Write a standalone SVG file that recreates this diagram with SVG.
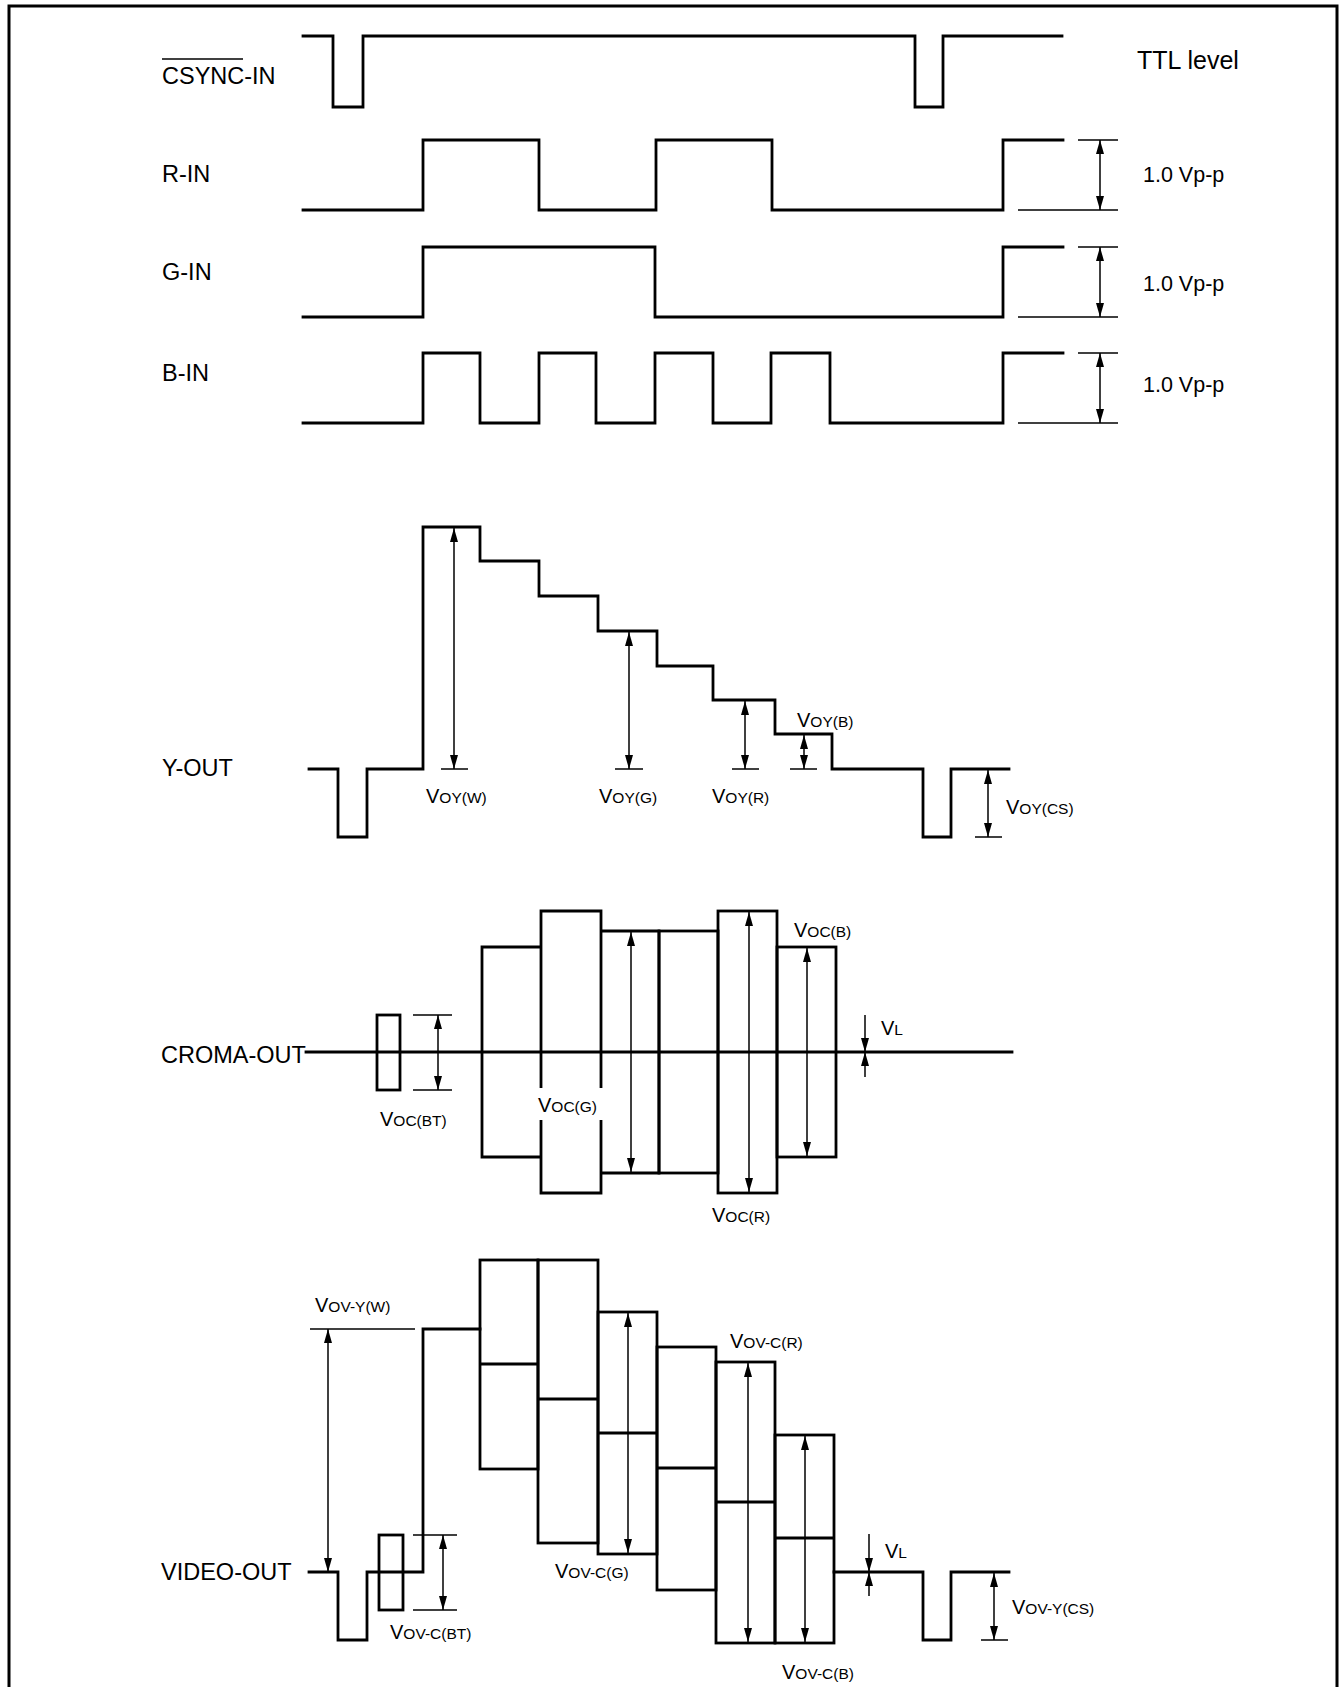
<svg xmlns="http://www.w3.org/2000/svg" width="1341" height="1687" viewBox="0 0 1341 1687">
<style>
text{font-family:"Liberation Sans",Arial,sans-serif;fill:#000}
.name{font-size:23.5px}
.note{font-size:21.5px}
.ttl{font-size:25px}
.sm{font-size:15.5px}
.big{font-size:20px}
.wave{fill:none;stroke:#000;stroke-width:2.8;stroke-linejoin:miter;stroke-linecap:square}
.box{fill:none;stroke:#000;stroke-width:2.8}
.tick{fill:none;stroke:#000;stroke-width:1.5}
.dim{fill:none;stroke:#000;stroke-width:1.5;marker-end:url(#ah)}
.dim2{fill:none;stroke:#000;stroke-width:1.5;marker-start:url(#ah);marker-end:url(#ah)}
</style>
<defs>
<marker id="ah" viewBox="0 0 14 8" refX="14" refY="4" markerWidth="14" markerHeight="8" markerUnits="userSpaceOnUse" orient="auto-start-reverse">
<path d="M0,0 L14,4 L0,8 z" fill="#000"/>
</marker>
</defs>
<rect width="1341" height="1687" fill="#fff"/>
<path d="M9,1690 V6 H1337 V1690" fill="none" stroke="#000" stroke-width="3"/>

<g id="csync">
<text class="name" x="162" y="84">CSYNC-IN</text>
<line x1="162" y1="59" x2="243" y2="59" stroke="#000" stroke-width="1.5"/>
<path class="wave" d="M303,36 H333 V107 H363 V36 H915 V107 H943 V36 H1062"/>
<text class="ttl" x="1137" y="69">TTL level</text>
</g>

<g id="r-in">
<text class="name" x="162" y="182">R-IN</text>
<path class="wave" d="M303,210 H423 V140 H539 V210 H656 V140 H772 V210 H1003 V140 H1063"/>
</g>
<g id="g-in">
<text class="name" x="162" y="280">G-IN</text>
<path class="wave" d="M303,317 H423 V247 H655 V317 H1003 V247 H1063"/>
</g>
<g id="b-in">
<text class="name" x="162" y="381">B-IN</text>
<path class="wave" d="M303,423 H423 V353 H480 V423 H539 V353 H596 V423 H655 V353 H713 V423 H771 V353 H830 V423 H1003 V353 H1063"/>
</g>

<g id="y-out">
<text class="name" x="162" y="776">Y-OUT</text>
<path class="wave" d="M309,769 H338 V837 H367 V769 H423 V527 H480 V561 H539 V596 H598 V631 H657 V666 H713 V700 H775 V734 H832 V769 H923 V837 H951 V769 H1009"/>
<text x="426" y="803"><tspan class="big">V</tspan><tspan class="sm">OY(W)</tspan></text>
<text x="599" y="803"><tspan class="big">V</tspan><tspan class="sm">OY(G)</tspan></text>
<text x="712" y="803"><tspan class="big">V</tspan><tspan class="sm">OY(R)</tspan></text>
<text x="797" y="727"><tspan class="big">V</tspan><tspan class="sm">OY(B)</tspan></text>
<text x="1006" y="814"><tspan class="big">V</tspan><tspan class="sm">OY(CS)</tspan></text>
</g>

<g id="croma-out">
<text class="name" x="161" y="1063">CROMA-OUT</text>
<path class="wave" d="M306,1052 H1012"/>
<rect class="box" x="377" y="1015" width="23" height="75"/>
<path class="box" d="M541,947 H482 V1157 H541"/>
<path class="box" d="M541,1088 V911 H601 V1088 M601,1120 V1193 H541 V1120"/>
<path class="box" d="M601,931 H659 V1173 H601"/>
<rect class="box" x="659" y="931" width="59" height="242"/>
<rect class="box" x="718" y="911" width="59" height="282"/>
<rect class="box" x="777" y="947" width="59" height="210"/>
<text x="380" y="1126"><tspan class="big">V</tspan><tspan class="sm">OC(BT)</tspan></text>
<text x="538" y="1112"><tspan class="big">V</tspan><tspan class="sm">OC(G)</tspan></text>
<text x="712" y="1222"><tspan class="big">V</tspan><tspan class="sm">OC(R)</tspan></text>
<text x="794" y="937"><tspan class="big">V</tspan><tspan class="sm">OC(B)</tspan></text>
<text x="881" y="1035"><tspan class="big">V</tspan><tspan class="sm">L</tspan></text>
</g>

<g id="video-out">
<text class="name" x="161" y="1580">VIDEO-OUT</text>
<path class="wave" d="M309,1572 H338 V1640 H367 V1572 H423 V1329 H480"/>
<rect class="box" x="379" y="1535" width="24" height="75"/>
<rect class="box" x="480" y="1260" width="58" height="209"/>
<line class="box" x1="480" y1="1364" x2="538" y2="1364"/>
<rect class="box" x="538" y="1260" width="60" height="283"/>
<line class="box" x1="538" y1="1399" x2="598" y2="1399"/>
<rect class="box" x="598" y="1312" width="59" height="242"/>
<line class="box" x1="598" y1="1433" x2="657" y2="1433"/>
<rect class="box" x="657" y="1347" width="59" height="243"/>
<line class="box" x1="657" y1="1468" x2="716" y2="1468"/>
<rect class="box" x="716" y="1362" width="59" height="281"/>
<line class="box" x1="716" y1="1502" x2="775" y2="1502"/>
<rect class="box" x="775" y="1435" width="59" height="208"/>
<line class="box" x1="775" y1="1538" x2="834" y2="1538"/>
<path class="wave" d="M834,1572 H923 V1640 H951 V1572 H1009"/>
<text x="315" y="1312"><tspan class="big">V</tspan><tspan class="sm">OV-Y(W)</tspan></text>
<text x="390" y="1639"><tspan class="big">V</tspan><tspan class="sm">OV-C(BT)</tspan></text>
<text x="555" y="1578"><tspan class="big">V</tspan><tspan class="sm">OV-C(G)</tspan></text>
<text x="730" y="1348"><tspan class="big">V</tspan><tspan class="sm">OV-C(R)</tspan></text>
<text x="782" y="1679"><tspan class="big">V</tspan><tspan class="sm">OV-C(B)</tspan></text>
<text x="885" y="1558"><tspan class="big">V</tspan><tspan class="sm">L</tspan></text>
<text x="1012" y="1614"><tspan class="big">V</tspan><tspan class="sm">OV-Y(CS)</tspan></text>
</g>

<g id="dimensions">
<line class="tick" x1="1078" y1="140" x2="1118" y2="140"/>
<line class="tick" x1="1018" y1="210" x2="1118" y2="210"/>
<line class="dim2" x1="1100" y1="140" x2="1100" y2="210"/>
<text class="note" x="1143" y="182">1.0 Vp-p</text>
<line class="tick" x1="1078" y1="247" x2="1118" y2="247"/>
<line class="tick" x1="1018" y1="317" x2="1118" y2="317"/>
<line class="dim2" x1="1100" y1="247" x2="1100" y2="317"/>
<text class="note" x="1143" y="291">1.0 Vp-p</text>
<line class="tick" x1="1078" y1="353" x2="1118" y2="353"/>
<line class="tick" x1="1018" y1="423" x2="1118" y2="423"/>
<line class="dim2" x1="1100" y1="353" x2="1100" y2="423"/>
<text class="note" x="1143" y="392">1.0 Vp-p</text>
<line class="tick" x1="441" y1="769" x2="468" y2="769"/>
<line class="dim2" x1="454" y1="528" x2="454" y2="769"/>
<line class="tick" x1="615" y1="769" x2="643" y2="769"/>
<line class="dim2" x1="629" y1="632" x2="629" y2="769"/>
<line class="tick" x1="732" y1="769" x2="759" y2="769"/>
<line class="dim2" x1="745" y1="701" x2="745" y2="769"/>
<line class="tick" x1="790" y1="769" x2="817" y2="769"/>
<line class="dim2" x1="804" y1="735" x2="804" y2="769"/>
<line class="tick" x1="975" y1="837" x2="1002" y2="837"/>
<line class="dim2" x1="988" y1="770" x2="988" y2="837"/>
<line class="tick" x1="413" y1="1015" x2="452" y2="1015"/>
<line class="tick" x1="413" y1="1090" x2="452" y2="1090"/>
<line class="dim2" x1="438" y1="1015" x2="438" y2="1090"/>
<line class="dim2" x1="631" y1="932" x2="631" y2="1172"/>
<line class="dim2" x1="749" y1="912" x2="749" y2="1192"/>
<line class="dim2" x1="807" y1="948" x2="807" y2="1156"/>
<line class="dim" x1="865" y1="1015" x2="865" y2="1052"/>
<line class="dim" x1="865" y1="1077" x2="865" y2="1052"/>
<line class="tick" x1="310" y1="1329" x2="415" y2="1329"/>
<line class="dim2" x1="328" y1="1329" x2="328" y2="1572"/>
<line class="tick" x1="413" y1="1535" x2="457" y2="1535"/>
<line class="tick" x1="413" y1="1610" x2="457" y2="1610"/>
<line class="dim2" x1="443" y1="1535" x2="443" y2="1610"/>
<line class="dim2" x1="628" y1="1313" x2="628" y2="1553"/>
<line class="dim2" x1="748" y1="1363" x2="748" y2="1642"/>
<line class="dim2" x1="805" y1="1436" x2="805" y2="1642"/>
<line class="dim" x1="869" y1="1534" x2="869" y2="1572"/>
<line class="dim" x1="869" y1="1596" x2="869" y2="1572"/>
<line class="tick" x1="981" y1="1640" x2="1008" y2="1640"/>
<line class="dim2" x1="994" y1="1573" x2="994" y2="1640"/>
</g>
</svg>
